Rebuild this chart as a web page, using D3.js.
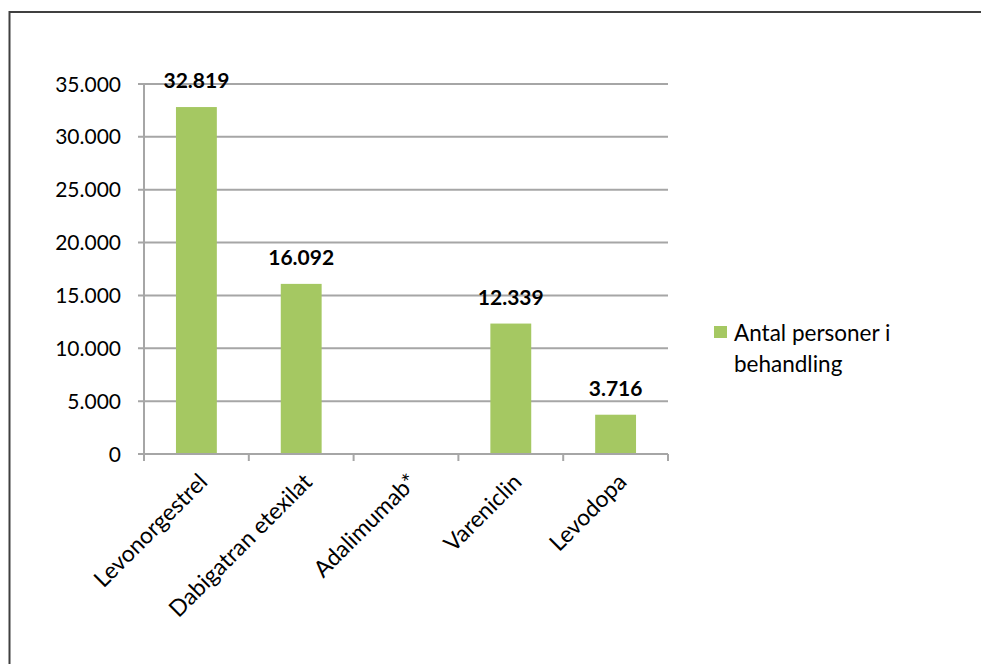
<!DOCTYPE html>
<html>
<head>
<meta charset="utf-8">
<script src="https://cdn.jsdelivr.net/npm/d3@7"></script>
<style>
  html, body { margin: 0; padding: 0; background: #fff; }
  svg { display: block; }
  text { font-family: Lato, "Open Sans", sans-serif; fill: #000; }
</style>
</head>
<body>
<svg id="chart" width="981" height="664"></svg>
<script>
const categories = ["Levonorgestrel", "Dabigatran etexilat", "Adalimumab*", "Vareniclin", "Levodopa"];
const values = [32819, 16092, null, 12339, 3716];
const valueLabels = ["32.819", "16.092", "", "12.339", "3.716"];
const yTicks = [0, 5000, 10000, 15000, 20000, 25000, 30000, 35000];
const yTickLabels = ["0", "5.000", "10.000", "15.000", "20.000", "25.000", "30.000", "35.000"];
const seriesName = ["Antal personer i", "behandling"];

(function () {
const svg = d3.select("#chart");
const W = 981, H = 664;
const mLeft = 144, mRight = 668, mTop = 84, mBottom = 454;
const barColor = "#A5C862";
const gridColor = "#A6A6A6";

// outer frame
svg.append("rect")
  .attr("x", 9.5).attr("y", 12).attr("width", W + 10).attr("height", H + 10)
  .attr("fill", "none").attr("stroke", "#404040").attr("stroke-width", 2);

const x = d3.scaleBand().domain(categories).range([mLeft, mRight])
  .paddingInner(0.61).paddingOuter(0.305);
const y = d3.scaleLinear().domain([0, 35000]).range([mBottom, mTop]);

// gridlines
svg.append("g").selectAll("line").data(yTicks).join("line")
  .attr("x1", mLeft - 6).attr("x2", mRight)
  .attr("y1", d => y(d)).attr("y2", d => y(d))
  .attr("stroke", gridColor).attr("stroke-width", 2);

// y axis line
svg.append("line").attr("x1", mLeft).attr("x2", mLeft)
  .attr("y1", y(35000)).attr("y2", y(0))
  .attr("stroke", gridColor).attr("stroke-width", 2);

// y tick labels
svg.append("g").selectAll("text").data(yTicks).join("text")
  .attr("x", mLeft - 23).attr("y", d => y(d))
  .attr("dy", "0.36em")
  .attr("text-anchor", "end")
  .attr("font-size", 21)
  .text((d, i) => yTickLabels[i]);

// bars
const data = categories.map((c, i) => ({ c, v: values[i], label: valueLabels[i] }));
svg.append("g").selectAll("rect").data(data.filter(d => d.v != null)).join("rect")
  .attr("x", d => x(d.c)).attr("width", x.bandwidth())
  .attr("y", d => y(d.v)).attr("height", d => y(0) - y(d.v))
  .attr("fill", barColor);

// x axis line
svg.append("line").attr("x1", mLeft).attr("x2", mRight)
  .attr("y1", y(0)).attr("y2", y(0))
  .attr("stroke", gridColor).attr("stroke-width", 2);

// x axis ticks at category boundaries
const boundaries = d3.range(categories.length + 1).map(i => x.range()[0] + i * x.step());
svg.append("g").selectAll("line").data(boundaries).join("line")
  .attr("x1", d => d).attr("x2", d => d)
  .attr("y1", y(0)).attr("y2", y(0) + 7)
  .attr("stroke", gridColor).attr("stroke-width", 2);

// data labels
svg.append("g").selectAll("text").data(data.filter(d => d.v != null)).join("text")
  .attr("x", d => x(d.c) + x.bandwidth() / 2)
  .attr("y", d => y(d.v) - 19)
  .attr("text-anchor", "middle")
  .attr("font-size", 21).attr("font-weight", "bold")
  .text(d => d.label);

// category labels
svg.append("g").selectAll("text").data(categories).join("text")
  .attr("transform", d => `translate(${x(d) + x.bandwidth() / 2 + 1},${y(0) + 18}) rotate(-45)`)
  .attr("text-anchor", "end")
  .attr("dy", "0.7em")
  .attr("font-size", 23)
  .text(d => d);

// legend
const lg = svg.append("g");
lg.append("rect").attr("x", 714).attr("y", 326).attr("width", 13).attr("height", 12)
  .attr("fill", barColor);
lg.selectAll("text").data(seriesName).join("text")
  .attr("x", 734).attr("y", (d, i) => 341 + i * 31)
  .attr("font-size", 22.5)
  .text(d => d);
})();
</script>
</body>
</html>
